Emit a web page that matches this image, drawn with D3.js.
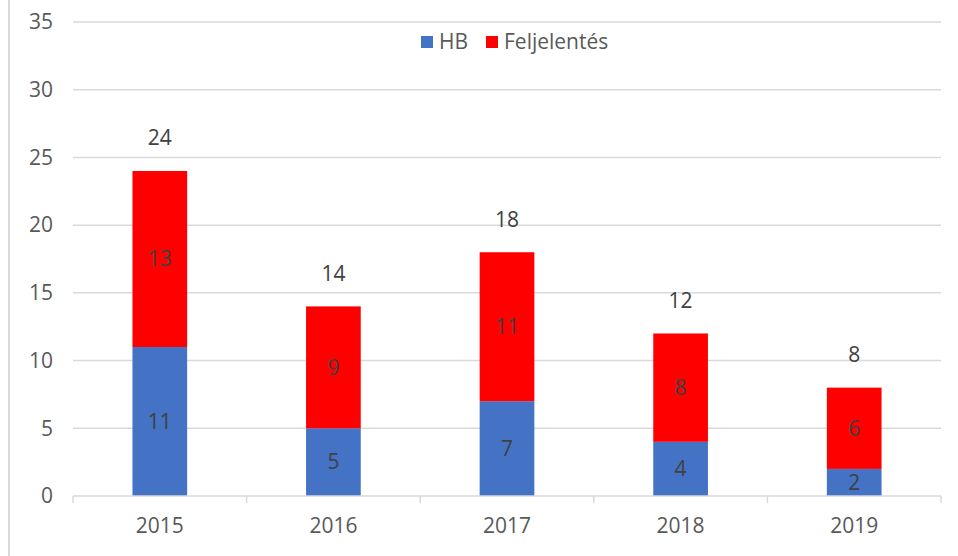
<!DOCTYPE html>
<html>
<head>
<meta charset="utf-8">
<script src="https://cdn.jsdelivr.net/npm/d3@7"></script>
<style>
  body { margin: 0; background: #fff; }
  text { font-family: "Open Sans", sans-serif; }
</style>
</head>
<body>
<div id="chart"></div>
<script>
var years = ["2015", "2016", "2017", "2018", "2019"];
var hb = [11, 5, 7, 4, 2];
var feljelentes = [13, 9, 11, 8, 6];
var totals = [24, 14, 18, 12, 8];
var seriesNames = ["HB", "Feljelentés"];
var seriesColors = ["#4472c4", "#ff0000"];
var yTicks = [0, 5, 10, 15, 20, 25, 30, 35];

var width = 958,
    height = 556,
    margin = {top: 22, right: 17, bottom: 60, left: 73},
    fontSize = "21px";

var rows = years.map(function(y, i) {
  return {year: y, HB: hb[i], "Feljelentés": feljelentes[i], total: totals[i]};
});

var svg = d3.select("#chart").append("svg")
  .attr("width", width)
  .attr("height", height);

// chart border on the left
svg.append("line")
  .attr("x1", 9).attr("x2", 9)
  .attr("y1", 0).attr("y2", height)
  .style("stroke", "#d9d9d9")
  .style("stroke-width", 2);

var x = d3.scaleBand()
  .domain(years)
  .range([margin.left, width - margin.right])
  .paddingInner(0.685)
  .paddingOuter(0.3425);

var y = d3.scaleLinear()
  .domain([0, 35])
  .range([height - margin.bottom, margin.top]);

// gridlines
svg.append("g")
  .selectAll("line")
  .data(yTicks.slice(1))
  .join("line")
  .attr("x1", margin.left)
  .attr("x2", width - margin.right)
  .attr("y1", function(d) { return y(d); })
  .attr("y2", function(d) { return y(d); })
  .style("stroke", "#d9d9d9")
  .style("stroke-width", 1.5);

// y labels
svg.append("g")
  .selectAll("text")
  .data(yTicks)
  .join("text")
  .attr("x", 53)
  .attr("y", function(d) { return y(d); })
  .attr("dy", "0.35em")
  .attr("text-anchor", "end")
  .style("font-size", fontSize)
  .style("fill", "#595959")
  .text(function(d) { return d; });

var stack = d3.stack().keys(seriesNames);
var layers = stack(rows);

svg.append("g")
  .selectAll("g")
  .data(layers)
  .join("g")
  .style("fill", function(d, i) { return seriesColors[i]; })
  .selectAll("rect")
  .data(function(d) { return d; })
  .join("rect")
  .attr("x", function(d) { return x(d.data.year); })
  .attr("y", function(d) { return y(d[1]); })
  .attr("width", x.bandwidth())
  .attr("height", function(d) { return y(d[0]) - y(d[1]); });

// x axis
var xAxis = d3.axisBottom(x).tickSize(0).tickPadding(22);
var gx = svg.append("g")
  .attr("transform", "translate(0," + y(0) + ")")
  .call(xAxis);
gx.select(".domain").remove();
gx.selectAll("text")
  .style("font-size", fontSize)
  .style("font-family", "Open Sans, sans-serif")
  .style("fill", "#595959");

svg.append("line")
  .attr("x1", margin.left).attr("x2", width - margin.right)
  .attr("y1", y(0)).attr("y2", y(0))
  .style("stroke", "#d9d9d9")
  .style("stroke-width", 1.5);

var step = x.step();
svg.append("g")
  .selectAll("line")
  .data(d3.range(years.length + 1))
  .join("line")
  .attr("x1", function(i) { return margin.left + i * step; })
  .attr("x2", function(i) { return margin.left + i * step; })
  .attr("y1", y(0))
  .attr("y2", y(0) + 7)
  .style("stroke", "#d9d9d9")
  .style("stroke-width", 1.5);

// segment labels
svg.append("g")
  .selectAll("g")
  .data(layers)
  .join("g")
  .selectAll("text")
  .data(function(d) { return d; })
  .join("text")
  .attr("x", function(d) { return x(d.data.year) + x.bandwidth() / 2; })
  .attr("y", function(d) { return y((d[0] + d[1]) / 2); })
  .attr("dy", "0.35em")
  .attr("text-anchor", "middle")
  .style("font-size", fontSize)
  .style("fill", "#404040")
  .text(function(d) { return d[1] - d[0]; });

// totals
svg.append("g")
  .selectAll("text")
  .data(rows)
  .join("text")
  .attr("x", function(d) { return x(d.year) + x.bandwidth() / 2; })
  .attr("y", function(d) { return y(d.total) - 33; })
  .attr("dy", "0.35em")
  .attr("text-anchor", "middle")
  .style("font-size", fontSize)
  .style("fill", "#404040")
  .text(function(d) { return d.total; });

// legend
var legend = svg.append("g");
var legendX = [421, 486];
seriesNames.forEach(function(name, i) {
  legend.append("rect")
    .attr("x", legendX[i]).attr("y", 36)
    .attr("width", 12).attr("height", 12)
    .style("fill", seriesColors[i]);
  legend.append("text")
    .attr("x", legendX[i] + 18).attr("y", 42)
    .attr("dy", "0.35em")
    .style("font-size", fontSize)
    .style("fill", "#595959")
    .text(name);
});
</script>
</body>
</html>
